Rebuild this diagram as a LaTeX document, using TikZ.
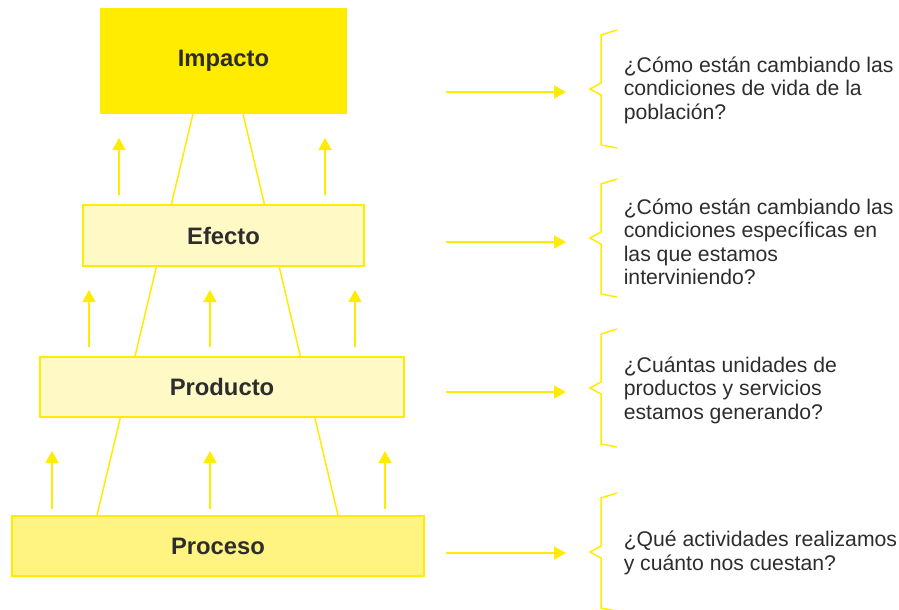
\documentclass[tikz,border=0pt]{standalone}
\usepackage{fontspec}
\setmainfont{Liberation Sans}
\usetikzlibrary{calc,arrows.meta,backgrounds,positioning}
\definecolor{amarillo}{RGB}{255,236,0}
\definecolor{amarilloclaro}{RGB}{255,249,198}
\definecolor{amarillomedio}{RGB}{255,243,130}
\definecolor{texto}{RGB}{45,45,45}
\tikzset{
  niveles/.style = {
    line width = 1.5pt,
    % Cajas de los niveles
    caja/.style = {draw=amarillo, text=texto, inner sep=0pt,
      font=\fontsize{23.8}{26}\selectfont\bfseries},
    % Flechas
    flecha/.style = {amarillo, -{Triangle[length=12pt,width=13pt]}},
    % Lineas del trapecio
    borde/.style = {amarillo, line width=1.5pt},
    % Preguntas
    pregunta/.style = {anchor=west, align=left, text=texto, inner sep=0pt,
      font=\fontsize{21.2}{23.5}\selectfont},
  }
}
\begin{document}
\begin{tikzpicture}[x=1pt,y=-1pt,niveles]
\useasboundingbox (0,0) rectangle (899,610);
\def\llave(#1,#2){
  \draw[amarillo] (617,#2-59) -- (601,#2-54) -- (601,#2-6) -- (#1,#2)
    -- (601,#2+6) -- (601,#2+56) -- (617,#2+59); }

  \node[caja, fill=amarillo, minimum width=245pt, minimum height=104pt] (impacto) at (223.5,61) {Impacto};
  \node[caja, fill=amarilloclaro, minimum width=281pt, minimum height=61pt] (efecto) at (223.5,235.5) {Efecto};
  \node[caja, fill=amarilloclaro, minimum width=364pt, minimum height=60pt] (producto) at (222,387) {Producto};
  \node[caja, fill=amarillomedio, minimum width=412pt, minimum height=60pt] (proceso) at (218,546) {Proceso};

  \begin{scope}[on background layer]
    \draw[borde] ($(impacto.south)+(-30.5,0)$) -- ($(proceso.north)+(-121,0)$);
    \draw[borde] ($(impacto.south)+(19.5,0)$) -- ($(proceso.north)+(120,0)$);
  \end{scope}

  \foreach \x/\ya/\yb in {119/195/138, 325/195/138, 89/347/290, 210/347/290,
      355/347/290, 52/509/451, 210/509/451, 385/509/451}
    \draw[flecha] (\x,\ya) -- (\x,\yb);

  \foreach \n/\y/\c in {1/92/89, 2/242/238, 3/392/388, 4/553/552} {
    \coordinate (sal\n) at (446,\y);
    \coordinate (lleg\n) at (566,\y);
    \draw[flecha] (sal\n) -- (lleg\n);
    \llave(590,\c)
  }

  \node[pregunta] (q1) at (623,90) {¿Cómo están cambiando las\\condiciones de vida de la\\población?};
  \node[pregunta] (q2) at (623,242) {¿Cómo están cambiando las\\condiciones específicas en\\las que estamos\\interviniendo?};
  \node[pregunta] (q3) at (623,390) {¿Cuántas unidades de\\productos y servicios\\estamos generando?};
  \node[pregunta] (q4) at (623,553) {¿Qué actividades realizamos\\y cuánto nos cuestan?};
\end{tikzpicture}
\end{document}
